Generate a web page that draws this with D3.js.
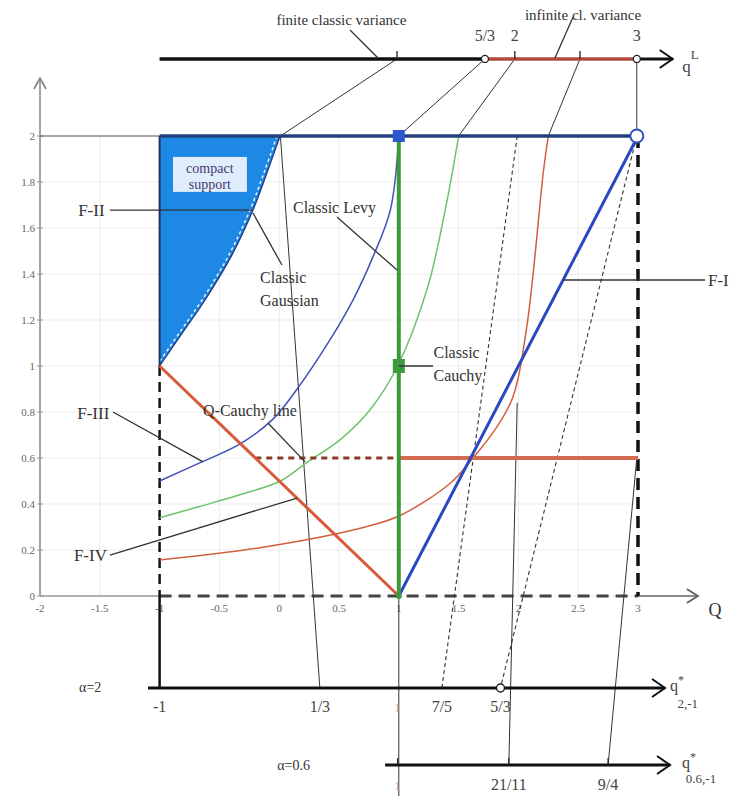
<!DOCTYPE html>
<html><head><meta charset="utf-8">
<script src="https://cdn.jsdelivr.net/npm/d3@7"></script>
<style>
body{margin:0;background:#fff;}
svg{display:block;}
text{font-family:"Liberation Serif","DejaVu Serif",serif;fill:#333;}
</style>
</head><body>
<svg id="chart" width="730" height="797"></svg>
<script>
// ---------- data (Q on x, value on y) ----------
const qTicks = [-2,-1.5,-1,-0.5,0,0.5,1,1.5,2,2.5,3];
const qTickLabels = ["-2","-1.5","-1","-0.5","0","0.5","1","1.5","2","2.5","3"];
const yTicks = [0,0.2,0.4,0.6,0.8,1,1.2,1.4,1.6,1.8,2];
const yTickLabels = ["0","0.2","0.4","0.6","0.8","1","1.2","1.4","1.6","1.8","2"];

// auxiliary axes (levels in value units, ticks at Q positions)
const topAxisLevel = 2.335;
const alpha2Level = -0.40;
const alpha06Level = -0.735;
const topAxisTicks = [
  {label:"", at:0.985, circle:false},
  {label:"5/3", at:1.72, circle:true},
  {label:"2", at:1.97, circle:false},
  {label:"", at:2.515, circle:false},
  {label:"3", at:2.99, circle:true}
];
const alpha2Ticks = [
  {label:"-1", at:-1, circle:false, faint:false},
  {label:"1/3", at:0.34, circle:false, faint:false},
  {label:"1", at:0.99, circle:false, faint:true},
  {label:"7/5", at:1.36, circle:false, faint:false},
  {label:"5/3", at:1.85, circle:true, faint:false}
];
const alpha06Ticks = [
  {label:"1", at:0.99, faint:true},
  {label:"21/11", at:1.92, faint:false},
  {label:"9/4", at:2.75, faint:false}
];

// curves
const compactBoundary = [[-1,1],[-0.804,1.148],[-0.62,1.287],[-0.395,1.483],[-0.219,1.678],[-0.094,1.852],[0.007,2]];
const curveBlue = [[-1,0.5],[-0.66,0.58],[-0.33,0.66],[-0.05,0.77],[0.15,0.9],[0.42,1.11],[0.62,1.29],[0.78,1.47],[0.93,1.68],[1.0,2.0]];
const curveGreen = [[-1,0.34],[-0.66,0.39],[-0.33,0.44],[0.01,0.5],[0.23,0.58],[0.51,0.68],[0.76,0.81],[0.99,1.0],[1.24,1.34],[1.4,1.71],[1.5,2.0]];
const curveRed = [[-1,0.157],[-0.16,0.21],[0.72,0.3],[1.01,0.35],[1.43,0.49],[1.62,0.6],[1.8,0.72],[1.95,0.86],[2.07,1.17],[2.21,1.85],[2.25,2.0]];

// thick straight lines
const qCauchyLine = [[-1,1],[1,0]];
const redLevel = [[1,0.6],[3,0.6]];
const redLevelDashed = [[-0.2,0.6],[1,0.6]];
const blueDiagonal = [[1,0],[3,2]];
const greenVertical = [[1,0],[1,2]];
const topBlueLine = [[-1,2],[3,2]];

// projection lines
const projSolid = [
  [[0.985,2.335],[0.01,2.0],[0.34,-0.40]],
  [[1.72,2.335],[1.0,2.0]],
  [[1.97,2.335],[1.5,2.0]],
  [[2.515,2.335],[2.25,2.0]],
  [[2.99,2.335],[2.99,2.0]],
  [[1.99,0.84],[1.92,-0.735]],
  [[2.99,0.6],[2.75,-0.735]],
  [[1,0],[1,-0.87]]
];
const projDashed = [
  [[1.99,2.0],[1.36,-0.40]],
  [[2.99,2.0],[1.85,-0.40]]
];

// annotations: pointer lines and texts
const pointers = [
  [[-1.415,1.678],[-0.219,1.678]],
  [[-1.39,0.80],[-0.637,0.583]],
  [[-1.415,0.178],[0.149,0.426]],
  [[2.373,1.374],[3.56,1.374]],
  [[0.483,1.648],[0.985,1.417]],
  [[-0.219,1.665],[0.023,1.439]],
  [[1.0,1.0],[1.286,1.0]],
  [[-0.094,0.752],[0.216,0.583]],
  [[0.592,2.461],[0.826,2.339]],
  [[2.457,2.517],[2.306,2.339]]
];
const labels = [
  {t:"F-II", q:-1.46, v:1.652, a:"end", s:17},
  {t:"F-III", q:-1.42, v:0.77, a:"end", s:17},
  {t:"F-IV", q:-1.44, v:0.152, a:"end", s:17},
  {t:"F-I", q:3.585, v:1.348, a:"start", s:17},
  {t:"Classic Levy", q:0.115, v:1.665, a:"start", s:16},
  {t:"Classic", q:-0.16, v:1.361, a:"start", s:16},
  {t:"Gaussian", q:-0.16, v:1.261, a:"start", s:16},
  {t:"Classic", q:1.29, v:1.035, a:"start", s:16},
  {t:"Cauchy", q:1.29, v:0.935, a:"start", s:16},
  {t:"Q-Cauchy line", q:-0.637, v:0.783, a:"start", s:16},
  {t:"finite classic variance", q:0.52, v:2.483, a:"middle", s:15},
  {t:"infinite cl. variance", q:2.54, v:2.504, a:"middle", s:15},
  {t:"Q", q:3.644, v:-0.087, a:"middle", s:18},
  {t:"α=2", q:-1.58, v:-0.418, a:"middle", s:14},
  {t:"α=0.6", q:0.12, v:-0.757, a:"middle", s:14}
];

// ---------- scales ----------
const svg = d3.select("#chart");
const x = d3.scaleLinear().domain([-2,3]).range([40,638]);
const y = d3.scaleLinear().domain([0,2]).range([596,136]);
const line = d3.line().x(d=>x(d[0])).y(d=>y(d[1]));
const smooth = d3.line().x(d=>x(d[0])).y(d=>y(d[1])).curve(d3.curveCatmullRom);

// grid
svg.append("g").selectAll("line").data(qTicks).join("line")
  .attr("x1",d=>x(d)).attr("x2",d=>x(d)).attr("y1",y(0)).attr("y2",y(2))
  .attr("stroke","#ececec").attr("stroke-width",1);
svg.append("g").selectAll("line").data(yTicks).join("line")
  .attr("x1",x(-2)).attr("x2",x(3)).attr("y1",d=>y(d)).attr("y2",d=>y(d))
  .attr("stroke","#ececec").attr("stroke-width",1);

// compact support region
const area = d3.area().curve(d3.curveCatmullRom)
  .y(d=>y(d[1])).x0(()=>x(-1)).x1(d=>x(d[0]));
svg.append("path").datum(compactBoundary).attr("d",area).attr("fill","#1e88e5");
svg.append("path").datum(compactBoundary).attr("d",smooth).attr("fill","none")
  .attr("stroke","#e8f4ff").attr("stroke-width",1.5).attr("stroke-dasharray","3,3")
  .attr("transform","translate(-3,0)");
svg.append("path").datum(compactBoundary).attr("d",smooth).attr("fill","none")
  .attr("stroke","#203a80").attr("stroke-width",1.3);
svg.append("path").datum([[-1,1],[-1,2]]).attr("d",line).attr("stroke","#203060").attr("stroke-width",2).attr("fill","none");

// compact support box
svg.append("rect").attr("x",x(-0.888)).attr("y",y(1.909)).attr("width",x(-0.27)-x(-0.888)).attr("height",y(1.757)-y(1.909))
  .attr("fill","#f4f8ff").attr("opacity",0.9);
svg.append("text").attr("x",x(-0.58)).attr("y",y(1.838)).attr("text-anchor","middle").attr("font-size",14).style("fill","#4a3a70").text("compact");
svg.append("text").attr("x",x(-0.58)).attr("y",y(1.768)).attr("text-anchor","middle").attr("font-size",14).style("fill","#4a3a70").text("support");

// y axis
svg.append("path").datum([[-2,0],[-2,2.252]]).attr("d",line).attr("stroke","#888").attr("stroke-width",1.5).attr("fill","none");
svg.append("path").attr("d",`M${x(-2)-6},${y(2.252)+11}L${x(-2)},${y(2.252)}L${x(-2)+6},${y(2.252)+11}`)
  .attr("stroke","#888").attr("stroke-width",1.8).attr("fill","none");
svg.append("g").selectAll("line").data(yTicks).join("line")
  .attr("x1",x(-2)-3).attr("x2",x(-2)+3).attr("y1",d=>y(d)).attr("y2",d=>y(d)).attr("stroke","#999");
svg.append("g").selectAll("text").data(yTicks).join("text")
  .attr("x",x(-2)-5).attr("y",d=>y(d)+4).attr("text-anchor","end").attr("font-size",11).style("fill","#666")
  .text((d,i)=>yTickLabels[i]);
// y=2 thin line from axis to compact region
svg.append("path").datum([[-2,2],[-1,2]]).attr("d",line).attr("stroke","#555").attr("stroke-width",1).attr("fill","none");

// Q axis (thin parts + arrow)
svg.append("path").datum([[-2,0],[-1,0]]).attr("d",line).attr("stroke","#999").attr("stroke-width",1.5).attr("fill","none");
svg.append("path").datum([[3,0],[3.5,0]]).attr("d",line).attr("stroke","#666").attr("stroke-width",1.5).attr("fill","none");
svg.append("path").attr("d",`M${x(3.5)-11},${y(0)-7}L${x(3.5)},${y(0)}L${x(3.5)-11},${y(0)+7}`)
  .attr("stroke","#666").attr("stroke-width",2).attr("fill","none");
svg.append("g").selectAll("text").data(qTicks).join("text")
  .attr("x",d=>x(d)).attr("y",y(-0.07)).attr("text-anchor","middle").attr("font-size",11).style("fill","#666")
  .text((d,i)=>qTickLabels[i]);

// thick dashed frame lines
svg.append("path").datum([[-1,0],[3,0]]).attr("d",line).attr("stroke","#444").attr("stroke-width",3).attr("stroke-dasharray","12,7").attr("fill","none");
svg.append("path").datum([[3,2],[3,0]]).attr("d",line).attr("stroke","#111").attr("stroke-width",3.5).attr("stroke-dasharray","12,7").attr("fill","none");
svg.append("path").datum([[-1,1],[-1,0]]).attr("d",line).attr("stroke","#111").attr("stroke-width",2.5).attr("stroke-dasharray","10,6").attr("fill","none");
svg.append("path").datum([[-1,0],[-1,alpha2Level]]).attr("d",line).attr("stroke","#111").attr("stroke-width",2.5).attr("fill","none");

// projection lines
svg.append("g").selectAll("path").data(projSolid).join("path").attr("d",line)
  .attr("stroke","#333").attr("stroke-width",1).attr("fill","none");
svg.append("g").selectAll("path").data(projDashed).join("path").attr("d",line)
  .attr("stroke","#333").attr("stroke-width",1.1).attr("stroke-dasharray","4,3").attr("fill","none");

// thin curves
svg.append("path").datum(curveRed).attr("d",smooth).attr("fill","none").attr("stroke","#d0603e").attr("stroke-width",1.5);
svg.append("path").datum(curveGreen).attr("d",smooth).attr("fill","none").attr("stroke","#6cc46c").attr("stroke-width",1.5);
svg.append("path").datum(curveBlue).attr("d",smooth).attr("fill","none").attr("stroke","#4050b8").attr("stroke-width",1.5);

// thick lines
svg.append("path").datum(redLevelDashed).attr("d",line).attr("stroke","#8a3a28").attr("stroke-width",3).attr("stroke-dasharray","6,5").attr("fill","none");
svg.append("path").datum(redLevel).attr("d",line).attr("stroke","#d46a50").attr("stroke-width",4).attr("fill","none");
svg.append("path").datum(qCauchyLine).attr("d",line).attr("stroke","#d85a3a").attr("stroke-width",3).attr("fill","none");
svg.append("path").datum(blueDiagonal).attr("d",line).attr("stroke","#2a48c0").attr("stroke-width",3).attr("fill","none");
svg.append("path").datum(greenVertical).attr("d",line).attr("stroke","#3c9a3c").attr("stroke-width",4).attr("fill","none");
svg.append("path").datum(topBlueLine).attr("d",line).attr("stroke","#22407e").attr("stroke-width",3.5).attr("fill","none");

// markers
svg.append("rect").attr("x",x(1)-6).attr("y",y(2)-6).attr("width",12).attr("height",12).attr("fill","#2a58d0");
svg.append("rect").attr("x",x(1)-6).attr("y",y(1)-7).attr("width",12).attr("height",14).attr("fill","#3c9a3c");
svg.append("circle").attr("cx",x(2.99)).attr("cy",y(2)).attr("r",6.5).attr("fill","#fff").attr("stroke","#3050c0").attr("stroke-width",2);
svg.append("circle").attr("cx",x(1)).attr("cy",y(0)).attr("r",3).attr("fill","#3c9a3c");

// top axis q^L
svg.append("path").datum([[-1,topAxisLevel],[1.72,topAxisLevel]]).attr("d",line).attr("stroke","#111").attr("stroke-width",3.5).attr("fill","none");
svg.append("path").datum([[1.72,topAxisLevel],[2.99,topAxisLevel]]).attr("d",line).attr("stroke","#b04a3a").attr("stroke-width",3.5).attr("fill","none");
svg.append("path").datum([[2.99,topAxisLevel],[3.29,topAxisLevel]]).attr("d",line).attr("stroke","#111").attr("stroke-width",3).attr("fill","none");
svg.append("path").attr("d",`M${x(3.29)-13},${y(topAxisLevel)-9}L${x(3.29)},${y(topAxisLevel)}L${x(3.29)-13},${y(topAxisLevel)+9}`)
  .attr("stroke","#111").attr("stroke-width",2).attr("fill","none");
svg.append("g").selectAll("line").data(topAxisTicks.filter(d=>!d.circle)).join("line")
  .attr("x1",d=>x(d.at)).attr("x2",d=>x(d.at)).attr("y1",y(topAxisLevel)).attr("y2",y(topAxisLevel)-8)
  .attr("stroke","#222").attr("stroke-width",1.3);
svg.append("g").selectAll("circle").data(topAxisTicks.filter(d=>d.circle)).join("circle")
  .attr("cx",d=>x(d.at)).attr("cy",y(topAxisLevel)).attr("r",3.5).attr("fill","#fff").attr("stroke","#222").attr("stroke-width",1.3);
svg.append("g").selectAll("text").data(topAxisTicks).join("text")
  .attr("x",d=>x(d.at)).attr("y",y(topAxisLevel)-18).attr("text-anchor","middle").attr("font-size",16).style("fill","#444")
  .text(d=>d.label);
const qL = svg.append("text").attr("x",x(3.37)).attr("y",y(topAxisLevel)+13).attr("font-size",17).style("fill","#444");
qL.append("tspan").text("q");
qL.append("tspan").attr("dy",-13).attr("font-size",13).text("L");

// alpha = 2 axis
svg.append("path").datum([[-1.097,alpha2Level],[3.226,alpha2Level]]).attr("d",line).attr("stroke","#111").attr("stroke-width",3).attr("fill","none");
svg.append("path").attr("d",`M${x(3.226)-13},${y(alpha2Level)-9}L${x(3.226)},${y(alpha2Level)}L${x(3.226)-13},${y(alpha2Level)+9}`)
  .attr("stroke","#111").attr("stroke-width",2).attr("fill","none");
svg.append("g").selectAll("circle").data(alpha2Ticks.filter(d=>d.circle)).join("circle")
  .attr("cx",d=>x(d.at)).attr("cy",y(alpha2Level)).attr("r",4).attr("fill","#fff").attr("stroke","#222").attr("stroke-width",1.5);
svg.append("g").selectAll("text").data(alpha2Ticks).join("text")
  .attr("x",d=>x(d.at)).attr("y",y(alpha2Level)+24).attr("text-anchor","middle")
  .attr("font-size",d=>d.faint?12:16).style("fill",d=>d.faint?"#aaa":"#444")
  .text(d=>d.label);
const q2 = svg.append("text").attr("x",x(3.268)).attr("y",y(alpha2Level)+3).attr("font-size",16).style("fill","#444");
q2.append("tspan").text("q");
q2.append("tspan").attr("dy",-7).attr("font-size",12).text("*");
q2.append("tspan").attr("x",x(3.33)).attr("dy",24).attr("font-size",13).text("2,-1");

// alpha = 0.6 axis
svg.append("path").datum([[0.885,alpha06Level],[3.268,alpha06Level]]).attr("d",line).attr("stroke","#111").attr("stroke-width",3).attr("fill","none");
svg.append("path").attr("d",`M${x(3.268)-13},${y(alpha06Level)-9}L${x(3.268)},${y(alpha06Level)}L${x(3.268)-13},${y(alpha06Level)+9}`)
  .attr("stroke","#111").attr("stroke-width",2).attr("fill","none");
svg.append("g").selectAll("line").data(alpha06Ticks).join("line")
  .attr("x1",d=>x(d.at)).attr("x2",d=>x(d.at)).attr("y1",y(alpha06Level)).attr("y2",y(alpha06Level)-7)
  .attr("stroke","#222").attr("stroke-width",1.3);
svg.append("g").selectAll("text").data(alpha06Ticks).join("text")
  .attr("x",d=>x(d.at)).attr("y",y(alpha06Level)+25).attr("text-anchor","middle")
  .attr("font-size",d=>d.faint?12:16).style("fill",d=>d.faint?"#aaa":"#444")
  .text(d=>d.label);
const q06 = svg.append("text").attr("x",x(3.368)).attr("y",y(alpha06Level)+3).attr("font-size",16).style("fill","#444");
q06.append("tspan").text("q");
q06.append("tspan").attr("dy",-7).attr("font-size",12).text("*");
q06.append("tspan").attr("x",x(3.40)).attr("dy",22).attr("font-size",13).text("0.6,-1");

// pointers and labels
svg.append("g").selectAll("path").data(pointers).join("path").attr("d",line)
  .attr("stroke","#333").attr("stroke-width",1.3).attr("fill","none");
svg.append("g").selectAll("text").data(labels).join("text")
  .attr("x",d=>x(d.q)).attr("y",d=>y(d.v)).attr("text-anchor",d=>d.a).attr("font-size",d=>d.s)
  .style("fill","#333").text(d=>d.t);
</script>
</body></html>
